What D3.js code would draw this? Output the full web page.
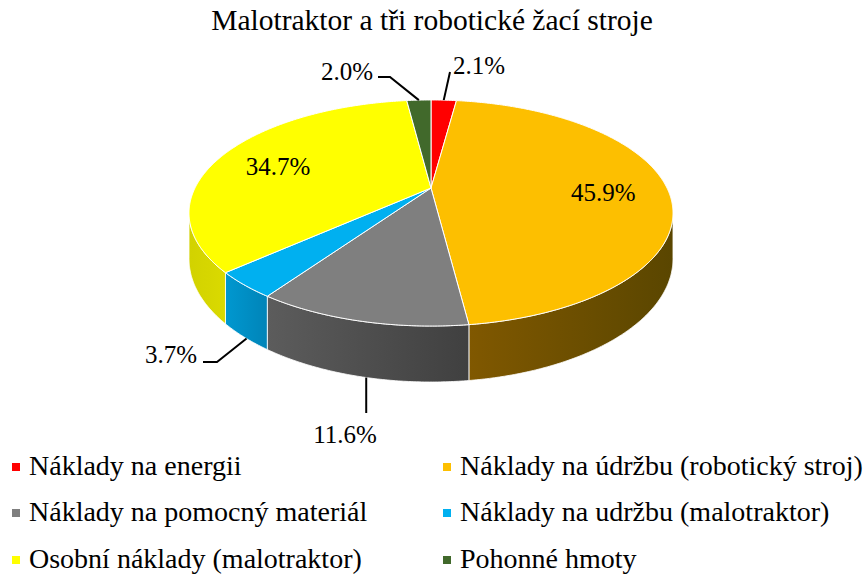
<!DOCTYPE html>
<html>
<head>
<meta charset="utf-8">
<script src="https://cdn.jsdelivr.net/npm/d3@7"></script>
<style>
  body { margin: 0; background: #fff; }
</style>
</head>
<body>
<div id="container"></div>
<script>
(function(){

  // data
  var title = "Malotraktor a tři robotické žací stroje"
  var categories = ["Náklady na energii", "Náklady na údržbu (robotický stroj)", "Náklady na pomocný materiál",
                    "Náklady na udržbu (malotraktor)", "Osobní náklady (malotraktor)", "Pohonné hmoty"]
  var values = [2.1, 45.9, 11.6, 3.7, 34.7, 2.0]
  var labels = ["2.1%", "45.9%", "11.6%", "3.7%", "34.7%", "2.0%"]

  var colors = ["#ff0000", "#fdbf00", "#7f7f7f", "#00b0f0", "#ffff00", "#41692b"]
  // side wall shades (left, right)
  var sideColors = [["#a00", "#800"], ["#805800", "#5a4600"], ["#5c5c5c", "#404040"],
                    ["#0098d0", "#0084b8"], ["#d2d200", "#dada00"], ["#2a461b", "#2a461b"]]

  var width = 865, height = 577
  var font = "Liberation Serif"

  var svg = d3.select("#container").append("svg")
      .attr("width", width)
      .attr("height", height)

  var defs = svg.append("defs")

  // simple perspective for the tilted disc
  var cx = 431, cy = 188, bx = 236, by = 107.5, persp = 0.2212, depth = 43.6
  function proj(a, f, z){
    var u = f * Math.sin(a), v = -f * Math.cos(a)
    var w = 1 - persp * v
    return [cx + bx * u / w, cy + by * v / w + z * depth / w]
  }

  var pie = d3.pie().sort(null).value(function(d){ return d })
  var arcs = pie(values)

  var line = d3.line()
  function arcPoints(a0, a1, f, z){
    var n = Math.max(2, Math.ceil((a1 - a0) / (Math.PI / 360)))
    return d3.range(n + 1).map(function(i){ return proj(a0 + (a1 - a0) * i / n, f, z) })
  }

  // visible part of outer wall lies between the silhouette angles
  var aL = Math.acos(-persp), aR = 2 * Math.PI - aL

  var walls = svg.append("g")
  arcs.forEach(function(d, i){
    var a0 = Math.max(d.startAngle, aL), a1 = Math.min(d.endAngle, aR)
    if (a1 <= a0) return
    var top = arcPoints(a0, a1, 1, 0)
    var bot = arcPoints(a0, a1, 1, 1).reverse()
    var xs = top.map(function(p){ return p[0] })
    var g = defs.append("linearGradient")
        .attr("id", "side" + i)
        .attr("gradientUnits", "userSpaceOnUse")
        .attr("x1", d3.min(xs)).attr("x2", d3.max(xs))
        .attr("y1", 0).attr("y2", 0)
    g.append("stop").attr("offset", "0%").attr("stop-color", sideColors[i][0])
    g.append("stop").attr("offset", "100%").attr("stop-color", sideColors[i][1])
    walls.append("path")
        .attr("d", line(top.concat(bot)) + "Z")
        .attr("fill", "url(#side" + i + ")")
        .attr("stroke", "#fff")
        .attr("stroke-width", 1)
        .attr("stroke-opacity", 0.8)
  })

  var tops = svg.append("g")
  tops.selectAll("path")
      .data(arcs)
      .enter().append("path")
      .attr("d", function(d){
        return line([[cx, cy]].concat(arcPoints(d.startAngle, d.endAngle, 1, 0))) + "Z"
      })
      .attr("fill", function(d, i){ return colors[i] })
      .attr("stroke", "#fff")
      .attr("stroke-width", 1)
      .attr("stroke-linejoin", "round")

  // title
  svg.append("text")
      .attr("x", 432).attr("y", 30)
      .attr("text-anchor", "middle")
      .attr("font-family", font)
      .attr("font-size", 29.5)
      .text(title)

  // data labels
  var lab = svg.append("g")
  function mid(d){ return (d.startAngle + d.endAngle) / 2 }

  // inside labels
  ;[1, 4].forEach(function(i){
    var p = proj(mid(arcs[i]), 0.73, 0)
    lab.append("text")
        .attr("x", p[0]).attr("y", p[1] + 13)
        .attr("text-anchor", "middle")
        .attr("font-family", font)
        .attr("font-size", 25)
        .text(labels[i])
  })

  // outside labels with leader lines
  var outside = [
    { i: 0, frac: 0.5, tx: 453, ty: 74, anchor: "start", bend: function(p){ return [[450, 72]] }, z: 0 },
    { i: 5, frac: 0.5, tx: 373, ty: 80, anchor: "end", bend: function(p){ return [[378, 77], [390, 77]] }, z: 0 },
    { i: 3, frac: 0.45, tx: 197, ty: 363, anchor: "end", bend: function(p){ return [[203, 362], [217, 362]] }, z: 1 },
    { i: 2, frac: 0.47, tx: 345, ty: 443, anchor: "middle", bend: function(p){ return [[p[0], 413]] }, z: 1 }
  ]
  outside.forEach(function(o){
    var d = arcs[o.i]
    var a = d.startAngle + (d.endAngle - d.startAngle) * o.frac
    var p = proj(a, 1, o.z)
    lab.append("path")
        .attr("d", line(o.bend(p).concat([p])))
        .attr("fill", "none")
        .attr("stroke", "#000")
        .attr("stroke-width", 2)
    lab.append("text")
        .attr("x", o.tx).attr("y", o.ty)
        .attr("text-anchor", o.anchor)
        .attr("font-family", font)
        .attr("font-size", 25)
        .text(labels[o.i])
  })

  // legend
  var legend = svg.append("g")
  var colX = [12, 443], rowY = [467, 513, 560]
  categories.forEach(function(c, i){
    var x = colX[i % 2], y = rowY[Math.floor(i / 2)]
    legend.append("rect")
        .attr("x", x).attr("y", y - 4)
        .attr("width", 8).attr("height", 8)
        .attr("fill", colors[i])
    legend.append("text")
        .attr("x", x + 17).attr("y", y + 7.5)
        .attr("font-family", font)
        .attr("font-size", 28)
        .text(c)
  })

})()
</script>
</body>
</html>
